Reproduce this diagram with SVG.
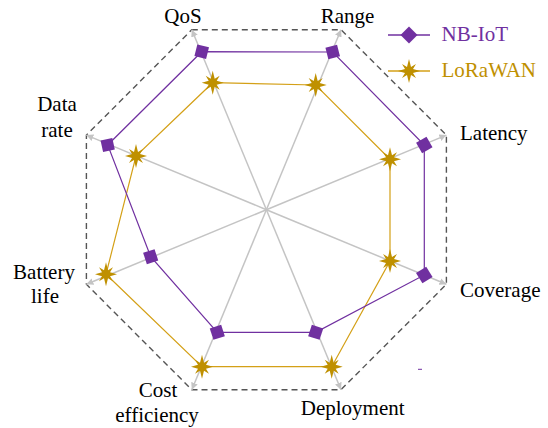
<svg xmlns="http://www.w3.org/2000/svg" width="548" height="428" viewBox="0 0 548 428">
<style>
.lbl{font-family:"Liberation Serif","Times New Roman",serif;font-size:21px;fill:#000}
.axis{stroke:#c4c4c4;stroke-width:1.5;fill:none;marker-end:url(#arr)}
.oct{fill:none;stroke:#555;stroke-width:1.4;stroke-dasharray:6,4}
.nb{fill:none;stroke:#7030A0;stroke-width:1.2}
.lw{fill:none;stroke:#D4A017;stroke-width:1.2}
.dia{fill:#7030A0}
.star{fill:#BF9000}
</style>
<defs>
<marker id="arr" viewBox="0 0 10 10" refX="10" refY="5" markerWidth="7" markerHeight="7" orient="auto" markerUnits="userSpaceOnUse">
<path d="M0,0 L10,5 L0,10 Z" fill="#c4c4c4"/>
</marker>
<rect id="sq" x="-6" y="-6" width="12" height="12"/>
<polygon id="st" points="0,-12 2,-4 7,-7 4,-2 11,0 4,2 7,7 2,4 0,12 -2,4 -7,7 -4,2 -11,0 -4,-2 -7,-7 -2,-4"/>
</defs>
<rect width="548" height="428" fill="#fff"/>
<g id="grid">
<polygon class="oct" points="191.8,29.7 341,29.7 446.4,135.1 446.4,284.3 341,389.7 191.8,389.7 86.4,284.3 86.4,135.1"/>
</g>
<g id="axes">
<line class="axis" x1="266.4" y1="209.7" x2="191.8" y2="29.7"/>
<line class="axis" x1="266.4" y1="209.7" x2="341" y2="29.7"/>
<line class="axis" x1="266.4" y1="209.7" x2="446.4" y2="135.1"/>
<line class="axis" x1="266.4" y1="209.7" x2="446.4" y2="284.3"/>
<line class="axis" x1="266.4" y1="209.7" x2="341" y2="389.7"/>
<line class="axis" x1="266.4" y1="209.7" x2="191.8" y2="389.7"/>
<line class="axis" x1="266.4" y1="209.7" x2="86.4" y2="284.3"/>
<line class="axis" x1="266.4" y1="209.7" x2="86.4" y2="135.1"/>
</g>
<g id="series-lorawan">
<polygon class="lw" points="212.7,82.7 315.7,85 390,159.3 390,261 331.7,366.7 202,366.7 106,274.3 136,156"/>
<use href="#st" class="star" x="212.7" y="82.7"/>
<use href="#st" class="star" x="315.7" y="85"/>
<use href="#st" class="star" x="390" y="159.3"/>
<use href="#st" class="star" x="390" y="261"/>
<use href="#st" class="star" x="331.7" y="366.7"/>
<use href="#st" class="star" x="202" y="366.7"/>
<use href="#st" class="star" x="106" y="274.3"/>
<use href="#st" class="star" x="136" y="156"/>
</g>
<g id="series-nbiot">
<polygon class="nb" points="201.7,51.7 332.7,52 424.3,145 424.3,275 315.7,332.3 217.3,332.3 150.7,256.7 107.7,145"/>
<use href="#sq" class="dia" transform="translate(201.7,51.7) rotate(14)"/>
<use href="#sq" class="dia" transform="translate(332.7,52) rotate(-14)"/>
<use href="#sq" class="dia" transform="translate(424.3,145) rotate(-30)"/>
<use href="#sq" class="dia" transform="translate(424.3,275) rotate(-32)"/>
<use href="#sq" class="dia" transform="translate(315.7,332.3) rotate(18)"/>
<use href="#sq" class="dia" transform="translate(217.3,332.3) rotate(-18)"/>
<use href="#sq" class="dia" transform="translate(150.7,256.7) rotate(-18)"/>
<use href="#sq" class="dia" transform="translate(107.7,145) rotate(-12)"/>
</g>
<g id="labels">
<text class="lbl" x="183" y="23" text-anchor="middle">QoS</text>
<text class="lbl" x="347.5" y="23" text-anchor="middle">Range</text>
<text class="lbl" x="460" y="140">Latency</text>
<text class="lbl" x="460" y="297">Coverage</text>
<text class="lbl" x="352.7" y="415" text-anchor="middle">Deployment</text>
<text class="lbl" x="158" y="397" text-anchor="middle">Cost</text>
<text class="lbl" x="157" y="422" text-anchor="middle">efficiency</text>
<text class="lbl" x="44" y="278.5" text-anchor="middle">Battery</text>
<text class="lbl" x="45" y="302.5" text-anchor="middle">life</text>
<text class="lbl" x="57" y="111" text-anchor="middle">Data</text>
<text class="lbl" x="57" y="137" text-anchor="middle">rate</text>
</g>
<g id="legend">
<line x1="388" y1="35" x2="430" y2="35" stroke="#7030A0" stroke-width="1.5"/>
<rect x="-6" y="-6" width="12" height="12" fill="#7030A0" transform="translate(409,35) rotate(45)"/>
<text class="lbl" x="441.5" y="41" style="fill:#7030A0">NB-IoT</text>
<line x1="388" y1="71" x2="430" y2="71" stroke="#D4A017" stroke-width="1.5"/>
<use href="#st" class="star" x="409" y="71"/>
<text class="lbl" x="441.5" y="77" style="fill:#BF9000">LoRaWAN</text>
</g>
<line x1="418" y1="369.3" x2="422" y2="369.3" stroke="#7030A0" stroke-width="1"/>
</svg>
